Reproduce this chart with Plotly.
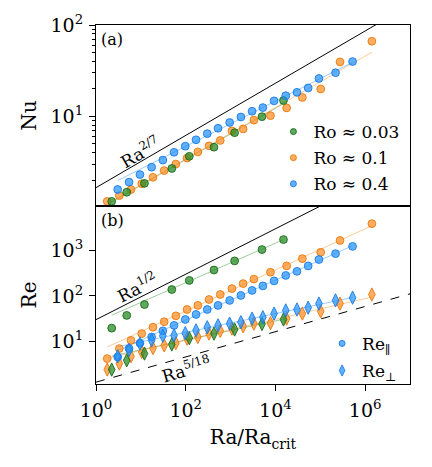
import numpy as np
import plotly.graph_objects as go

# ---------------- data (log10 values) ----------------
log_ra_ro003 = [0.35, 0.685, 1.08, 1.69, 2.08, 2.63, 3.09, 3.70, 4.18]
log_nu_ro003 = [0.07, 0.17, 0.267, 0.43, 0.563, 0.663, 0.822, 0.997, 1.174]
log_repar_ro003 = [1.29, 1.57, 1.81, 2.14, 2.34, 2.57, 2.77, 3.02, 3.24]
log_reperp_ro003 = [0.378, 0.582, 0.73, 0.93, 1.07, 1.17, 1.26, 1.38, 1.48]

log_ra_ro01 = [0.25, 0.52, 0.78, 1.02, 1.27, 1.52, 1.78, 2.03, 2.27, 2.52,
               2.77, 3.03, 3.28, 3.52, 3.89, 4.25, 4.60, 5.01, 5.44, 6.15]
log_nu_ro01 = [0.07, 0.133, 0.2, 0.263, 0.333, 0.407, 0.478, 0.544, 0.611, 0.678,
               0.737, 0.841, 0.863, 0.959, 1.008, 1.093, 1.207, 1.3, 1.596, 1.822]
log_repar_ro01 = [0.62, 0.84, 1.02, 1.17, 1.31, 1.43, 1.56, 1.70, 1.79, 1.92,
                  2.03, 2.16, 2.27, 2.37, 2.52, 2.66, 2.82, 2.96, 3.22, 3.59]
log_reperp_ro01 = [0.378, 0.51, 0.67, 0.765, 0.85, 0.91, 0.96, 1.06, 1.095, 1.17,
                   1.23, 1.28, 1.33, 1.39, 1.40, 1.50, 1.61, 1.66, 1.83, 2.03]

log_ra_ro04 = [0.484, 0.737, 0.98, 1.24, 1.49, 1.74, 1.99, 2.23, 2.48, 2.72, 2.98,
               3.23, 3.48, 3.72, 3.97, 4.23, 4.48, 4.73, 4.97, 5.34, 5.72]
log_nu_ro04 = [0.2, 0.281, 0.363, 0.444, 0.522, 0.607, 0.674, 0.744, 0.811, 0.87, 0.933,
               0.993, 1.056, 1.096, 1.17, 1.226, 1.263, 1.311, 1.415, 1.478, 1.6]
log_repar_ro04 = [0.655, 0.84, 0.96, 1.095, 1.23, 1.35, 1.48, 1.59, 1.70, 1.79, 1.90,
                  2.01, 2.12, 2.22, 2.33, 2.45, 2.54, 2.66, 2.80, 2.93, 3.09]
log_reperp_ro04 = [0.67, 0.81, 0.95, 1.02, 1.12, 1.13, 1.18, 1.24, 1.31, 1.35, 1.39,
                   1.42, 1.50, 1.53, 1.61, 1.68, 1.70, 1.74, 1.83, 1.90, 1.96]

# reference scaling laws: (exponent, prefactor)
law_nu = (2 / 7, 1.66)
law_re_half = (1 / 2, 30.0)
law_re_518 = (5 / 18, 1.26)

legend_names = ["Ro ≈ 0.03", "Ro ≈ 0.1", "Ro ≈ 0.4"]
re_legend_names = ["Re<sub>∥</sub>", "Re<sub>⊥</sub>"]
x_tickvals = [1, 1e2, 1e4, 1e6]
x_ticktext = ["10<sup>0</sup>", "10<sup>2</sup>", "10<sup>4</sup>", "10<sup>6</sup>"]
nu_tickvals = [10, 100]
nu_ticktext = ["10<sup>1</sup>", "10<sup>2</sup>"]
re_tickvals = [10, 100, 1000]
re_ticktext = ["10<sup>1</sup>", "10<sup>2</sup>", "10<sup>3</sup>"]

# ---------------- styles ----------------
FONT = "DejaVu Serif"
styles = {
    "g": dict(fill="rgba(40,140,40,0.75)", edge="#1a6a1a", fit="rgba(40,140,40,0.45)"),
    "o": dict(fill="rgba(255,140,30,0.7)", edge="#e8780c", fit="rgba(255,140,30,0.45)"),
    "b": dict(fill="rgba(30,144,255,0.7)", edge="#1b7be0", fit="rgba(30,144,255,0.45)"),
}

fig = go.Figure()


def pw(lx):
    return 10 ** np.asarray(lx, dtype=float)


def add_fit(lx, ly, start, col, xa, ya):
    lx = np.asarray(lx, float)
    ly = np.asarray(ly, float)
    k, c = np.polyfit(lx[start:], ly[start:], 1)
    xs = np.array([lx[0], lx[-1]])
    fig.add_trace(go.Scatter(x=10 ** xs, y=10 ** (k * xs + c), mode="lines",
                             line=dict(color=styles[col]["fit"], width=1),
                             showlegend=False, hoverinfo="skip", xaxis=xa, yaxis=ya))


def add_pts(lx, ly, col, xa, ya, symbol="circle", size=7.8):
    fig.add_trace(go.Scatter(x=pw(lx), y=pw(ly), mode="markers",
                             marker=dict(symbol=symbol, size=size, color=styles[col]["fill"],
                                         line=dict(color=styles[col]["edge"], width=0.9)),
                             showlegend=False, xaxis=xa, yaxis=ya))


xr = np.array([0.0, 7.0])

# ---- panel (a) ----
fig.add_trace(go.Scatter(x=10 ** xr, y=law_nu[1] * (10 ** xr) ** law_nu[0], mode="lines",
                         line=dict(color="black", width=1), showlegend=False,
                         xaxis="x", yaxis="y"))
add_fit(log_ra_ro003, log_nu_ro003, 0, "g", "x", "y")
add_fit(log_ra_ro01, log_nu_ro01, 0, "o", "x", "y")
add_fit(log_ra_ro04, log_nu_ro04, 3, "b", "x", "y")
add_pts(log_ra_ro01, log_nu_ro01, "o", "x", "y")
add_pts(log_ra_ro003, log_nu_ro003, "g", "x", "y")
add_pts(log_ra_ro04, log_nu_ro04, "b", "x", "y")
for nm, col in zip(legend_names, ["g", "o", "b"]):
    fig.add_trace(go.Scatter(x=[None], y=[None], mode="markers",
                             marker=dict(symbol="circle", size=6, color=styles[col]["fill"],
                                         line=dict(color=styles[col]["edge"], width=0.9)),
                             name=nm, legend="legend", legendgroup=nm,
                             xaxis="x", yaxis="y"))

# ---- panel (b) ----
for law, dash in [(law_re_half, "solid"), (law_re_518, "dash")]:
    fig.add_trace(go.Scatter(x=10 ** xr, y=law[1] * (10 ** xr) ** law[0], mode="lines",
                             line=dict(color="black", width=1, dash=dash), showlegend=False,
                             xaxis="x2", yaxis="y2"))
add_fit(log_ra_ro003, log_repar_ro003, 3, "g", "x2", "y2")
add_fit(log_ra_ro01, log_repar_ro01, 4, "o", "x2", "y2")
add_fit(log_ra_ro04, log_repar_ro04, 3, "b", "x2", "y2")
add_fit(log_ra_ro003, log_reperp_ro003, 3, "g", "x2", "y2")
add_fit(log_ra_ro01, log_reperp_ro01, 4, "o", "x2", "y2")
add_fit(log_ra_ro04, log_reperp_ro04, 4, "b", "x2", "y2")
add_pts(log_ra_ro01, log_repar_ro01, "o", "x2", "y2")
add_pts(log_ra_ro01, log_reperp_ro01, "o", "x2", "y2", symbol="diamond-tall", size=9.5)
add_pts(log_ra_ro003, log_repar_ro003, "g", "x2", "y2")
add_pts(log_ra_ro003, log_reperp_ro003, "g", "x2", "y2", symbol="diamond-tall", size=9.5)
add_pts(log_ra_ro04, log_repar_ro04, "b", "x2", "y2")
add_pts(log_ra_ro04, log_reperp_ro04, "b", "x2", "y2", symbol="diamond-tall", size=9.5)
for nm, sym, sz in zip(re_legend_names, ["circle", "diamond-tall"], [6, 8]):
    fig.add_trace(go.Scatter(x=[None], y=[None], mode="markers",
                             marker=dict(symbol=sym, size=sz, color=styles["b"]["fill"],
                                         line=dict(color=styles["b"]["edge"], width=0.9)),
                             name=nm, legend="legend2", legendgroup=nm,
                             xaxis="x2", yaxis="y2"))

split = 0.496
TICK = 19
TITLE = 20
LEG = 17
axcommon = dict(type="log", showline=True, linecolor="black", linewidth=1.2, mirror=True,
                showgrid=False, zeroline=False, tickcolor="black",
                tickfont=dict(family=FONT, size=TICK, color="black"))

fig.update_layout(
    width=432, height=467,
    margin=dict(l=96, r=22, t=23, b=83),
    plot_bgcolor="white", paper_bgcolor="white",
    font=dict(family=FONT, color="black"),
    xaxis=dict(axcommon, range=[0, 7], domain=[0, 1], anchor="y", showticklabels=False,
               ticks="", tickvals=x_tickvals),
    yaxis=dict(axcommon, range=[0.02, 2.0], domain=[split, 1], anchor="x",
               tickvals=nu_tickvals, ticktext=nu_ticktext, ticks="outside", ticklen=6,
               ticklabelstandoff=2,
               minor=dict(ticks="outside", ticklen=3, tickcolor="black",
                          tickvals=[2, 3, 4, 5, 6, 7, 8, 9, 20, 30, 40, 50, 60, 70, 80, 90]),
               title=dict(text="Nu", font=dict(family=FONT, size=TITLE), standoff=8)),
    xaxis2=dict(axcommon, range=[0, 7], domain=[0, 1], anchor="y2",
                tickvals=x_tickvals, ticktext=x_ticktext, ticks="outside", ticklen=6,
                ticklabelstandoff=3,
                title=dict(text="Ra/Ra<sub>crit</sub>", font=dict(family=FONT, size=TITLE),
                           standoff=10)),
    yaxis2=dict(axcommon, range=[0.06, 3.98], domain=[0, split], anchor="x2",
                tickvals=re_tickvals, ticktext=re_ticktext, ticks="outside", ticklen=6,
                ticklabelstandoff=2,
                title=dict(text="Re", font=dict(family=FONT, size=TITLE), standoff=8)),
    legend=dict(x=0.565, y=0.752, xanchor="left", yanchor="top", bgcolor="rgba(0,0,0,0)",
                font=dict(family=FONT, size=LEG), tracegroupgap=1, itemwidth=30),
    legend2=dict(x=0.72, y=0.162, xanchor="left", yanchor="top", bgcolor="rgba(0,0,0,0)",
                 font=dict(family=FONT, size=LEG), tracegroupgap=2, itemwidth=30),
    showlegend=True,
)

annots = [
    dict(text="(a)", xref="x domain", yref="y domain", x=0.01, y=0.985,
         xanchor="left", yanchor="top", font=dict(size=16)),
    dict(text="(b)", xref="x2 domain", yref="y2 domain", x=0.01, y=0.985,
         xanchor="left", yanchor="top", font=dict(size=16)),
    dict(text="Ra<sup>2/7</sup>", xref="x", yref="y", x=0.98, y=0.61, textangle=-30,
         font=dict(size=17)),
    dict(text="Ra<sup>1/2</sup>", xref="x2", yref="y2", x=0.92, y=2.19, textangle=-27,
         font=dict(size=17)),
    dict(text="Ra<sup>5/18</sup>", xref="x2", yref="y2", x=2.0, y=0.40, textangle=-16,
         font=dict(size=17)),
]
for a in annots:
    a.update(showarrow=False)
    a["font"].update(family=FONT, color="black")
    fig.add_annotation(**a)

fig.write_html("out.html")
